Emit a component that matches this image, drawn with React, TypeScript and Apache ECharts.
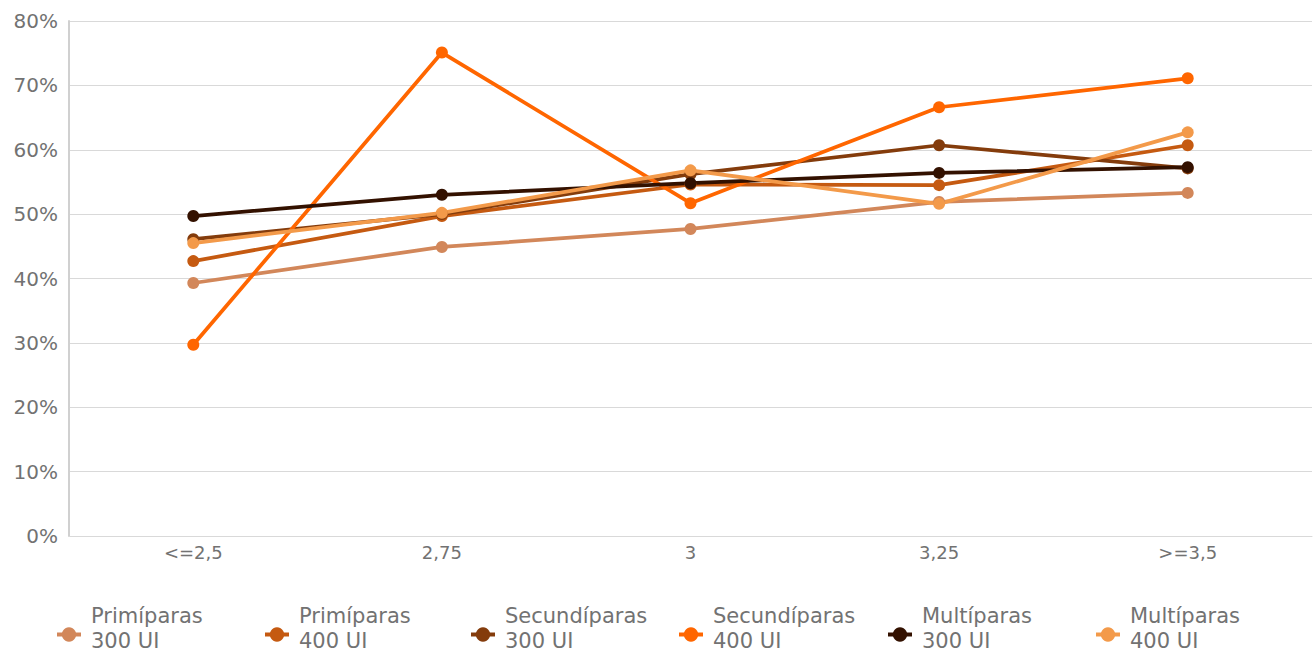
import React, { useEffect, useRef } from "react";
import * as echarts from "echarts";

const categories = ["<=2,5", "2,75", "3", "3,25", ">=3,5"];
const seriesNames = [
  "Primíparas\n300 UI",
  "Primíparas\n400 UI",
  "Secundíparas\n300 UI",
  "Secundíparas\n400 UI",
  "Multíparas\n300 UI",
  "Multíparas\n400 UI",
];
const prim300 = [39.3, 44.9, 47.7, 51.9, 53.3];
const prim400 = [42.7, 49.7, 54.6, 54.5, 60.7];
const sec300 = [46.1, 50.0, 56.2, 60.7, 57.1];
const sec400 = [29.7, 75.1, 51.7, 66.6, 71.1];
const mult300 = [49.7, 53.0, 54.8, 56.4, 57.3];
const mult400 = [45.5, 50.2, 56.8, 51.6, 62.7];
const seriesValues = [prim300, prim400, sec300, sec400, mult300, mult400];
const colors = ["#D2875A", "#C55A11", "#843C0C", "#FF6600", "#331100", "#F39A4A"];
const yTicks = [0, 10, 20, 30, 40, 50, 60, 70, 80];

const FONT = "DejaVu Sans, Liberation Sans, Arial, sans-serif";

export default function App() {
  const ref = useRef<HTMLDivElement>(null);
  useEffect(() => {
    if (!ref.current) return;
    const chart = echarts.init(ref.current, undefined, { renderer: "svg" });
    const legendLefts = [55, 263, 469, 677, 886, 1094];
    chart.setOption({
      animation: false,
      grid: { left: 69, right: 2, top: 21, bottom: 122 },
      xAxis: {
        type: "category",
        data: categories,
        boundaryGap: true,
        axisLine: { show: true, lineStyle: { color: "#D9D9D9", width: 1 } },
        axisTick: { show: false },
        axisLabel: {
          color: "#727272",
          fontFamily: FONT,
          fontSize: 18,
          margin: 7,
        },
      },
      yAxis: {
        type: "value",
        min: yTicks[0],
        max: yTicks[yTicks.length - 1],
        interval: 10,
        axisLine: { show: true, lineStyle: { color: "#D0D0D0", width: 2 } },
        axisTick: { show: false },
        splitLine: { show: true, lineStyle: { color: "#D9D9D9", width: 1 } },
        axisLabel: {
          formatter: "{value}%",
          color: "#727272",
          fontFamily: FONT,
          fontSize: 20,
          margin: 11,
        },
      },
      legend: seriesNames.map((n, i) => ({
        data: [n],
        left: legendLefts[i],
        top: 603,
        padding: 0,
        itemWidth: 24,
        itemHeight: 18,
        lineStyle: { width: 4 },
        formatter: (name: string) => `${name}\n{s| }`,
        textStyle: {
          color: "#727272",
          fontFamily: FONT,
          fontSize: 21,
          lineHeight: 25,
          padding: [0, 0, 0, 5],
          rich: { s: { fontSize: 8, lineHeight: 13 } },
        },
      })),
      series: seriesNames.map((n, i) => ({
        name: n,
        type: "line",
        data: seriesValues[i],
        color: colors[i],
        symbol: "circle",
        symbolSize: 12,
        lineStyle: { width: 3.75, color: colors[i] },
        itemStyle: { color: colors[i] },
      })),
    });
    return () => chart.dispose();
  }, []);
  return <div ref={ref} style={{ width: 1314, height: 658, position: "absolute", left: 0, top: 0 }} />;
}
